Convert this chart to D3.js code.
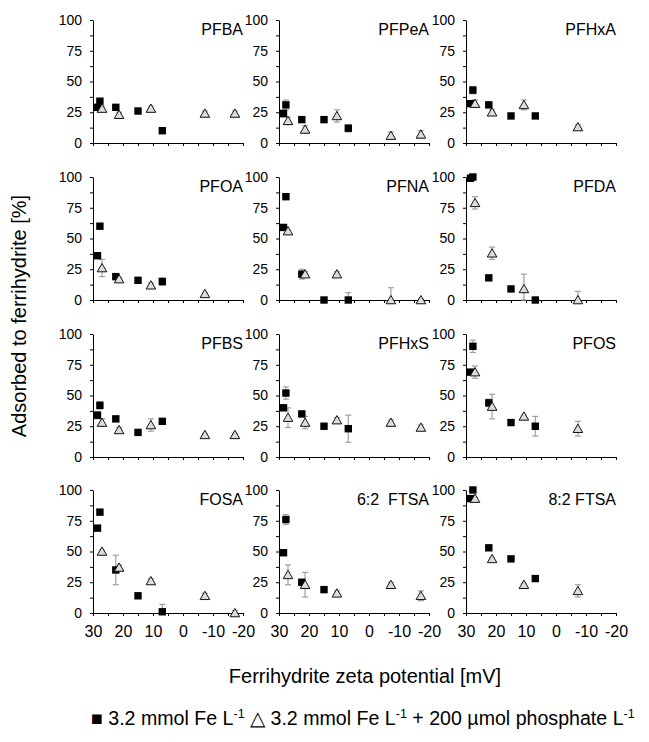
<!DOCTYPE html>
<html>
<head>
<meta charset="utf-8">
<script src="https://cdn.jsdelivr.net/npm/d3@7"></script>
<style>
  body { margin: 0; background: #fff; }
  text { font-family: "Liberation Sans", Arial, sans-serif; }
</style>
</head>
<body>
<script>
var compounds = ["PFBA", "PFPeA", "PFHxA", "PFOA", "PFNA", "PFDA", "PFBS", "PFHxS", "PFOS", "FOSA", "6:2  FTSA", "8:2 FTSA"];

// zeta potentials (mV) of the two ferrihydrite suspensions
var zetaFe = [28.5, 27.7, 22.4, 15.0, 6.9];
var zetaP = [27.0, 21.3, 10.7, -7.3, -17.3];

// adsorbed [%] for 3.2 mmol Fe/L
var adsFe = [
  [29, 34, 29, 26, 10],
  [24, 31, 19, 19, 12],
  [32, 43, 31, 22, 22],
  [36, 60, 19, 16, 15],
  [59, 84, 21, 0, 0],
  [99, 100, 18, 9, 0],
  [34, 42, 31, 20, 29],
  [40, 52, 35, 25, 23],
  [69, 90, 44, 28, 25],
  [69, 82, 35, 14, 1],
  [49, 76, 25, 19, null],
  [93, 100, 53, 44, 28]
];
var errFe = [
  [2, 2, 1, 1, 2],
  [3, 4, 1, 1, 3],
  [2, 3, 1, 1, 2],
  [1, 1, 1, 1, 3],
  [1, 1, 4, 1, 6],
  [1, 1, 1, 1, 2],
  [3, 3, 2, 1, 1],
  [2, 5, 2, 1, 11],
  [1, 5, 3, 1, 8],
  [1, 1, 12, 1, 6],
  [1, 4, 1, 1, 0],
  [1, 1, 1, 1, 1]
];

// adsorbed [%] for 3.2 mmol Fe/L + 200 umol phosphate/L
var adsP = [
  [28, 23, 28, 24, 24],
  [18, 11, 22, 6, 7],
  [32, 25, 31, 13, null],
  [26, 17, 12, 5, null],
  [56, 21, 21, 0, 0],
  [79, 38, 9, 0, null],
  [28, 22, 26, 18, 18],
  [32, 28, 30, 28, 24],
  [69, 41, 33, 23, null],
  [50, 37, 26, 14, 0],
  [31, 23, 16, 23, 14],
  [93, 44, 23, 18, null]
];
var errP = [
  [2, 2, 2, 2, 2],
  [3, 3, 5, 3, 3],
  [3, 2, 4, 2, 0],
  [7, 1, 2, 1, 0],
  [1, 2, 2, 10, 1],
  [5, 5, 12, 7, 0],
  [3, 2, 5, 1, 1],
  [8, 5, 2, 2, 2],
  [5, 10, 1, 6, 0],
  [1, 2, 2, 2, 2],
  [8, 10, 2, 2, 4],
  [1, 1, 1, 5, 0]
];

var xTicks = [30, 25, 20, 15, 10, 5, 0, -5, -10, -15, -20];
var yTicks = [0, 12.5, 25, 37.5, 50, 62.5, 75, 87.5, 100];

var width = 649, height = 742;
var pw = 150, ph = 123;
var colX = [93, 279, 466];
var rowY = [20, 177, 334, 490];

var svg = d3.select("body").append("svg")
  .attr("width", width).attr("height", height);

var x = d3.scaleLinear().domain([30, -20]).range([0, pw]);
var y = d3.scaleLinear().domain([0, 100]).range([ph, 0]);

compounds.forEach(function(name, i) {
  var col = i % 3, row = Math.floor(i / 3);
  var g = svg.append("g").attr("transform", "translate(" + colX[col] + "," + rowY[row] + ")");

  var yAxis = d3.axisLeft(y).tickValues(yTicks).tickSize(3).tickSizeOuter(0).tickPadding(8)
    .tickFormat(function(d) { return d % 25 === 0 ? d : ""; });
  var xAxis = d3.axisBottom(x).tickValues(xTicks).tickSize(3).tickSizeOuter(0).tickPadding(10)
    .tickFormat(function(d) { return (row === 3 && d % 10 === 0) ? d : ""; });

  g.append("g").call(yAxis)
    .call(function(a) { a.selectAll("text").style("font-size", "14px").style("font-family", "Liberation Sans, Arial"); });
  g.append("g").attr("transform", "translate(0," + ph + ")").call(xAxis)
    .call(function(a) { a.selectAll("text").style("font-size", "16px").style("font-family", "Liberation Sans, Arial"); });

  g.append("text").attr("x", pw).attr("y", 15).attr("text-anchor", "end")
    .style("font-size", "16px").style("white-space", "pre").text(name);

  var fe = zetaFe.map(function(z, j) { return { z: z, v: adsFe[i][j], e: errFe[i][j] }; })
    .filter(function(d) { return d.v !== null; });
  var ph4 = zetaP.map(function(z, j) { return { z: z, v: adsP[i][j], e: errP[i][j] }; })
    .filter(function(d) { return d.v !== null; });

  // error bars
  [fe, ph4].forEach(function(set) {
    var eb = g.append("g").selectAll("g").data(set.filter(function(d) { return d.e > 0; }))
      .enter().append("g").attr("stroke", "#a0a0a0").attr("stroke-width", 1.2);
    eb.append("line")
      .attr("x1", function(d) { return x(d.z); }).attr("x2", function(d) { return x(d.z); })
      .attr("y1", function(d) { return y(Math.max(0, d.v - d.e)); })
      .attr("y2", function(d) { return y(d.v + d.e); });
    eb.append("line")
      .attr("x1", function(d) { return x(d.z) - 3; }).attr("x2", function(d) { return x(d.z) + 3; })
      .attr("y1", function(d) { return y(d.v + d.e); }).attr("y2", function(d) { return y(d.v + d.e); });
    eb.append("line")
      .attr("x1", function(d) { return x(d.z) - 3; }).attr("x2", function(d) { return x(d.z) + 3; })
      .attr("y1", function(d) { return y(Math.max(0, d.v - d.e)); })
      .attr("y2", function(d) { return y(Math.max(0, d.v - d.e)); });
  });

  g.selectAll("rect.fe").data(fe).enter().append("rect").attr("class", "fe")
    .attr("x", function(d) { return x(d.z) - 3.7; })
    .attr("y", function(d) { return y(d.v) - 3.7; })
    .attr("width", 7.4).attr("height", 7.4)
    .attr("fill", "#000");

  g.selectAll("path.p").data(ph4).enter().append("path").attr("class", "p")
    .attr("d", d3.symbol().type(d3.symbolTriangle).size(40))
    .attr("transform", function(d) { return "translate(" + x(d.z) + "," + (y(d.v) + 1) + ")"; })
    .attr("fill", "#dcdcdc").attr("stroke", "#111").attr("stroke-width", 1);
});

svg.append("text").attr("transform", "translate(26,316) rotate(-90)")
  .attr("text-anchor", "middle").style("font-size", "20px")
  .text("Adsorbed to ferrihydrite [%]");

svg.append("text").attr("x", 365).attr("y", 683)
  .attr("text-anchor", "middle").style("font-size", "20px")
  .text("Ferrihydrite zeta potential [mV]");

var legend = svg.append("text").attr("x", 91).attr("y", 725).style("font-size", "19.6px");
legend.append("tspan").text("\u25A0 3.2 mmol Fe L");
legend.append("tspan").attr("dy", -7).style("font-size", "12.5px").text("-1");
legend.append("tspan").attr("dy", 7).text(" \u25B3 3.2 mmol Fe L");
legend.append("tspan").attr("dy", -7).style("font-size", "12.5px").text("-1");
legend.append("tspan").attr("dy", 7).text(" + 200 \u00B5mol phosphate L");
legend.append("tspan").attr("dy", -7).style("font-size", "12.5px").text("-1");
</script>
</body>
</html>
